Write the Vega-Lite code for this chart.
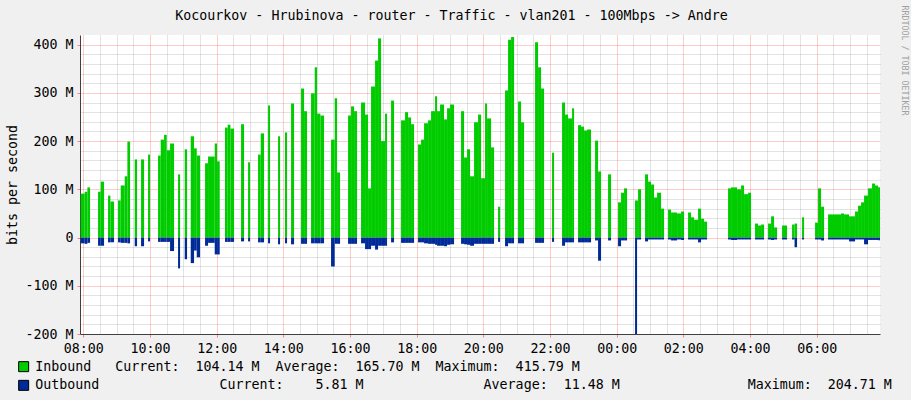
{
"$schema": "https://vega.github.io/schema/vega-lite/v6.json",
"width": 800, "height": 299,
"autosize": {"type": "none"},
"padding": {"left": 80, "top": 35, "right": 31, "bottom": 66},
"background": "#f0f0f0",
"config": {"view": {"fill": "#ffffff", "stroke": null}, "font": "DejaVu Sans Mono"},
"data": {"values": [
{"t0":-4.7,"t1":2.5,"inbound":91,"outbound":-12},{"t0":2.5,"t1":7.3,"inbound":95,"outbound":-13},{"t0":7.3,"t1":12.1,"inbound":104,"outbound":-11},
{"t0":26.5,"t1":31.3,"inbound":95,"outbound":-17},{"t0":31.3,"t1":37.3,"inbound":116,"outbound":-17},
{"t0":44.5,"t1":48.7,"inbound":87,"outbound":-10},{"t0":48.7,"t1":55.3,"inbound":75,"outbound":-10},
{"t0":62.5,"t1":67.3,"inbound":77,"outbound":-10},{"t0":67.3,"t1":74.5,"inbound":108,"outbound":-11},{"t0":74.5,"t1":79.3,"inbound":127,"outbound":-11},{"t0":79.3,"t1":84.1,"inbound":199,"outbound":-12},
{"t0":92.5,"t1":96.7,"inbound":162,"outbound":-18},
{"t0":103.9,"t1":109.3,"inbound":162,"outbound":-18},
{"t0":116.5,"t1":120.1,"inbound":172,"outbound":-8},
{"t0":134.5,"t1":139.3,"inbound":170,"outbound":-9},{"t0":139.3,"t1":145.3,"inbound":203,"outbound":-9},{"t0":145.3,"t1":150.1,"inbound":213,"outbound":-9},{"t0":150.1,"t1":156.1,"inbound":181,"outbound":-9},{"t0":156.1,"t1":163.3,"inbound":195,"outbound":-28},
{"t0":170.5,"t1":174.1,"inbound":131,"outbound":-64},
{"t0":182.5,"t1":186.7,"inbound":183,"outbound":-45},
{"t0":193.3,"t1":199.3,"inbound":210,"outbound":-53},{"t0":199.3,"t1":204.1,"inbound":185,"outbound":-27},{"t0":204.1,"t1":210.1,"inbound":170,"outbound":-41},
{"t0":219.1,"t1":224.5,"inbound":154,"outbound":-17},{"t0":224.5,"t1":236.5,"inbound":168,"outbound":-11},{"t0":236.5,"t1":240.7,"inbound":195,"outbound":-35},{"t0":240.7,"t1":245.5,"inbound":158,"outbound":-35},
{"t0":255,"t1":259.9,"inbound":228,"outbound":-9},{"t0":259.9,"t1":264.7,"inbound":234,"outbound":-9},{"t0":264.7,"t1":271.3,"inbound":226,"outbound":-9},
{"t0":283.9,"t1":289.3,"inbound":235,"outbound":-8},
{"t0":296.5,"t1":300.1,"inbound":156,"outbound":-8},
{"t0":314.5,"t1":319.3,"inbound":172,"outbound":-10},{"t0":319.3,"t1":325.3,"inbound":216,"outbound":-10},
{"t0":332.5,"t1":336.1,"inbound":274,"outbound":-12},
{"t0":350.5,"t1":354.1,"inbound":210,"outbound":-14},
{"t0":363,"t1":366.7,"inbound":218,"outbound":-12},
{"t0":373.9,"t1":379.3,"inbound":278,"outbound":-14},
{"t0":391.9,"t1":397.3,"inbound":309,"outbound":-13},{"t0":397.3,"t1":402.7,"inbound":262,"outbound":-13},
{"t0":409.9,"t1":416.5,"inbound":299,"outbound":-12},{"t0":416.5,"t1":420.7,"inbound":353,"outbound":-12},{"t0":420.7,"t1":426.7,"inbound":257,"outbound":-12},{"t0":426.7,"t1":433.3,"inbound":253,"outbound":-12},
{"t0":445.9,"t1":452.5,"inbound":203,"outbound":-60},{"t0":452.5,"t1":456.7,"inbound":289,"outbound":-13},{"t0":456.7,"t1":462.1,"inbound":135,"outbound":-13},
{"t0":476.5,"t1":481.9,"inbound":253,"outbound":-13},{"t0":481.9,"t1":487.3,"inbound":272,"outbound":-13},{"t0":487.3,"t1":492.7,"inbound":262,"outbound":-13},
{"t0":499.9,"t1":507.1,"inbound":280,"outbound":-12},{"t0":507.1,"t1":512.5,"inbound":255,"outbound":-24},{"t0":512.5,"t1":517.9,"inbound":102,"outbound":-24},{"t0":517.9,"t1":525.1,"inbound":313,"outbound":-17},{"t0":525.1,"t1":530.5,"inbound":367,"outbound":-25},{"t0":530.5,"t1":535.9,"inbound":413,"outbound":-17},{"t0":535.9,"t1":543.1,"inbound":200,"outbound":-17},{"t0":543.1,"t1":546.7,"inbound":257,"outbound":-17},
{"t0":553.9,"t1":559.3,"inbound":284,"outbound":-10},
{"t0":571.9,"t1":579.1,"inbound":243,"outbound":-11},{"t0":579.1,"t1":584.5,"inbound":260,"outbound":-11},{"t0":584.5,"t1":589.9,"inbound":249,"outbound":-11},{"t0":589.9,"t1":595.3,"inbound":235,"outbound":-11},
{"t0":602.5,"t1":607.9,"inbound":193,"outbound":-10},{"t0":607.9,"t1":613.3,"inbound":203,"outbound":-10},{"t0":613.3,"t1":620.5,"inbound":237,"outbound":-12},{"t0":620.5,"t1":625.9,"inbound":243,"outbound":-13},{"t0":625.9,"t1":633.1,"inbound":262,"outbound":-13},{"t0":633.1,"t1":636.7,"inbound":293,"outbound":-15},{"t0":636.7,"t1":642.1,"inbound":262,"outbound":-17},{"t0":642.1,"t1":649.3,"inbound":276,"outbound":-17},{"t0":649.3,"t1":654.7,"inbound":245,"outbound":-18},{"t0":654.7,"t1":660.1,"inbound":268,"outbound":-15},{"t0":660.1,"t1":667.3,"inbound":276,"outbound":-14},
{"t0":679.9,"t1":685.3,"inbound":262,"outbound":-13},{"t0":685.3,"t1":690.7,"inbound":166,"outbound":-14},{"t0":690.7,"t1":696.1,"inbound":183,"outbound":-15},{"t0":696.1,"t1":703.3,"inbound":127,"outbound":-17},{"t0":703.3,"t1":710.5,"inbound":239,"outbound":-13},{"t0":710.5,"t1":716,"inbound":255,"outbound":-13},{"t0":716,"t1":723.1,"inbound":123,"outbound":-13},{"t0":723.1,"t1":726.7,"inbound":278,"outbound":-13},{"t0":726.7,"t1":733.9,"inbound":247,"outbound":-13},{"t0":733.9,"t1":739.3,"inbound":187,"outbound":-13},
{"t0":746.5,"t1":750.1,"inbound":64,"outbound":-9},
{"t0":759.1,"t1":764.5,"inbound":305,"outbound":-18},{"t0":764.5,"t1":769.9,"inbound":410,"outbound":-12},{"t0":769.9,"t1":775.3,"inbound":415.79,"outbound":-12},
{"t0":782.5,"t1":787.9,"inbound":282,"outbound":-12},{"t0":787.9,"t1":793.3,"inbound":239,"outbound":-12},
{"t0":813.1,"t1":818.5,"inbound":405,"outbound":-11},{"t0":818.5,"t1":823.9,"inbound":353,"outbound":-11},{"t0":823.9,"t1":829.3,"inbound":309,"outbound":-11},
{"t0":843.7,"t1":847.3,"inbound":176,"outbound":-9},
{"t0":861.7,"t1":867.1,"inbound":280,"outbound":-17},{"t0":867.1,"t1":872.5,"inbound":255,"outbound":-10},{"t0":872.5,"t1":879.7,"inbound":247,"outbound":-10},{"t0":879.7,"t1":883.3,"inbound":268,"outbound":-10},
{"t0":890.5,"t1":895.9,"inbound":233,"outbound":-10},{"t0":895.9,"t1":901.3,"inbound":230,"outbound":-10},{"t0":901.3,"t1":906.7,"inbound":222,"outbound":-10},{"t0":906.7,"t1":913.9,"inbound":224,"outbound":-10},
{"t0":921.1,"t1":926.5,"inbound":201,"outbound":-6},{"t0":926.5,"t1":931.9,"inbound":137,"outbound":-48},
{"t0":944.5,"t1":949.9,"inbound":131,"outbound":-6},
{"t0":962.5,"t1":967.9,"inbound":73,"outbound":-18},{"t0":967.9,"t1":973.3,"inbound":93,"outbound":-6},{"t0":973.3,"t1":978.7,"inbound":102,"outbound":-6},
{"t0":993.1,"t1":996.7,"inbound":77,"outbound":-204.71},{"t0":996.7,"t1":998.5,"inbound":77,"outbound":-4},{"t0":998.5,"t1":1003.9,"inbound":100,"outbound":-4},
{"t0":1011.1,"t1":1016.5,"inbound":131,"outbound":-8},{"t0":1016.5,"t1":1021.9,"inbound":116,"outbound":-4},{"t0":1021.9,"t1":1027.3,"inbound":110,"outbound":-4},{"t0":1027.3,"t1":1032.7,"inbound":83,"outbound":-4},{"t0":1032.7,"t1":1039.9,"inbound":93,"outbound":-4},{"t0":1039.9,"t1":1045.3,"inbound":60,"outbound":-4},
{"t0":1052.5,"t1":1057.9,"inbound":58,"outbound":-4},{"t0":1057.9,"t1":1068.7,"inbound":52,"outbound":-6},{"t0":1068.7,"t1":1075.9,"inbound":50,"outbound":-4},{"t0":1075.9,"t1":1081.3,"inbound":54,"outbound":-5},
{"t0":1088.5,"t1":1093.9,"inbound":52,"outbound":-4},{"t0":1093.9,"t1":1099.3,"inbound":42,"outbound":-4},{"t0":1099.3,"t1":1106.5,"inbound":37,"outbound":-4},{"t0":1106.5,"t1":1111.9,"inbound":60,"outbound":-10},{"t0":1111.9,"t1":1117.3,"inbound":39,"outbound":-4},{"t0":1117.3,"t1":1122.7,"inbound":33,"outbound":-4},
{"t0":1160.5,"t1":1165.9,"inbound":102,"outbound":-4},{"t0":1165.9,"t1":1176.7,"inbound":104,"outbound":-5},{"t0":1176.7,"t1":1183.9,"inbound":100,"outbound":-4},{"t0":1183.9,"t1":1189.3,"inbound":108,"outbound":-4},{"t0":1189.3,"t1":1196.5,"inbound":90,"outbound":-4},{"t0":1196.5,"t1":1201.9,"inbound":93,"outbound":-4},
{"t0":1209.1,"t1":1214.5,"inbound":29,"outbound":-4},{"t0":1214.5,"t1":1219.9,"inbound":25,"outbound":-4},{"t0":1219.9,"t1":1225.3,"inbound":27,"outbound":-4},
{"t0":1232.5,"t1":1237.9,"inbound":29,"outbound":-4},{"t0":1237.9,"t1":1243.3,"inbound":44,"outbound":-5},{"t0":1243.3,"t1":1248.7,"inbound":21,"outbound":-4},
{"t0":1257.7,"t1":1266.7,"inbound":25,"outbound":-4},
{"t0":1275.7,"t1":1280.2,"inbound":27,"outbound":-4},{"t0":1280.2,"t1":1284.7,"inbound":29,"outbound":-20},
{"t0":1293.7,"t1":1297.3,"inbound":42,"outbound":-4},
{"t0":1317.1,"t1":1322.5,"inbound":31,"outbound":-4},{"t0":1322.5,"t1":1327.9,"inbound":102,"outbound":-4},{"t0":1327.9,"t1":1333.3,"inbound":64,"outbound":-6},
{"t0":1340.5,"t1":1363.9,"inbound":48,"outbound":-4},{"t0":1363.9,"t1":1369.3,"inbound":50,"outbound":-4},{"t0":1369.3,"t1":1378.3,"inbound":48,"outbound":-4},{"t0":1378.3,"t1":1389.1,"inbound":44,"outbound":-8},{"t0":1389.1,"t1":1394.5,"inbound":54,"outbound":-4},{"t0":1394.5,"t1":1399.9,"inbound":66,"outbound":-4},{"t0":1399.9,"t1":1405.3,"inbound":73,"outbound":-4},{"t0":1405.3,"t1":1412.5,"inbound":87,"outbound":-14},{"t0":1412.5,"t1":1419.7,"inbound":102,"outbound":-5},{"t0":1419.7,"t1":1425.1,"inbound":112,"outbound":-5},{"t0":1425.1,"t1":1430.5,"inbound":108,"outbound":-5},{"t0":1430.5,"t1":1434,"inbound":104.14,"outbound":-5.81}
]},
"layer": [
{
"mark": {"type": "rect", "strokeWidth": 0, "clip": true},
"encoding": {
"x": {"field": "t0", "type": "quantitative", "scale": {"domain": [-6, 1434], "nice": false, "zero": false},
 "axis": {"orient": "bottom", "values": [0,120,240,360,480,600,720,840,960,1080,1200,1320],
  "labelExpr": "((floor(datum.value/60)+8)%24 < 10 ? '0' : '') + ((floor(datum.value/60)+8)%24) + ':00'",
  "grid": true, "gridColor": "#ff0000", "gridOpacity": 0.4, "gridDash": [1,1],
  "tickColor": "#ff8080", "tickSize": 3, "domainColor": "#404040", "domainWidth": 1,
  "labelFont": "DejaVu Sans Mono", "labelFontSize": 13.3, "labelColor": "#000000", "labelPadding": 4,
  "labelFlush": false, "labelOverlap": false, "title": null}},
"x2": {"field": "t1"},
"y": {"field": "inbound", "type": "quantitative", "scale": {"domain": [-200, 420], "nice": false, "zero": false},
 "axis": {"orient": "left", "values": [-200,-100,0,100,200,300,400],
  "labelExpr": "datum.value == 0 ? '0' : datum.value + ' M'",
  "grid": true, "gridColor": "#ff0000", "gridOpacity": 0.4, "gridDash": [1,1],
  "tickColor": "#ff8080", "tickSize": 3, "domainColor": "#404040", "domainWidth": 1,
  "labelFont": "DejaVu Sans Mono", "labelFontSize": 13.3, "labelColor": "#000000", "labelPadding": 4, "labelFlush": false, "labelOverlap": false,
  "title": "bits per second", "titleFont": "DejaVu Sans Mono", "titleFontSize": 13.3, "titleFontWeight": "normal", "titleColor": "#000000",
  "titleAngle": 270, "titleX": -68, "titleY": 149.5, "titleAlign": "center", "titleBaseline": "middle"}},
"y2": {"datum": 0},
"color": {"datum": "Inbound", "type": "nominal",
 "scale": {"domain": ["Inbound", "Outbound"], "range": ["#00cc00", "#002a97"]},
 "legend": {"orient": "none", "legendX": -63, "legendY": 325, "direction": "vertical", "title": null,
  "symbolType": "square", "symbolSize": 100, "symbolStrokeColor": "#000000", "symbolStrokeWidth": 1, "symbolOpacity": 1,
  "labelFont": "DejaVu Sans Mono", "labelFontSize": 13.3, "labelColor": "#000000", "labelLimit": 2000, "labelOffset": 5,
  "rowPadding": 3.7, "padding": 0,
  "labelExpr": "datum.label == 'Inbound' ? 'Inbound\u00a0\u00a0\u00a0Current:\u00a0\u00a0104.14\u00a0M\u00a0\u00a0Average:\u00a0\u00a0165.70\u00a0M\u00a0\u00a0Maximum:\u00a0\u00a0415.79\u00a0M' : 'Outbound\u00a0\u00a0\u00a0\u00a0\u00a0\u00a0\u00a0\u00a0\u00a0\u00a0\u00a0\u00a0\u00a0\u00a0\u00a0Current:\u00a0\u00a0\u00a0\u00a05.81\u00a0M\u00a0\u00a0\u00a0\u00a0\u00a0\u00a0\u00a0\u00a0\u00a0\u00a0\u00a0\u00a0\u00a0\u00a0\u00a0Average:\u00a0\u00a011.48\u00a0M\u00a0\u00a0\u00a0\u00a0\u00a0\u00a0\u00a0\u00a0\u00a0\u00a0\u00a0\u00a0\u00a0\u00a0\u00a0\u00a0Maximum:\u00a0\u00a0204.71\u00a0M'"}}
}
},
{
"mark": {"type": "rect", "strokeWidth": 0, "clip": true},
"encoding": {
"x": {"field": "t0", "type": "quantitative",
 "axis": {"orient": "top", "values": [30,60,90,150,180,210,270,300,330,390,420,450,510,540,570,630,660,690,750,780,810,870,900,930,990,1020,1050,1110,1140,1170,1230,1260,1290,1350,1380,1410],
  "grid": true, "gridColor": "#808080", "gridOpacity": 0.45, "gridDash": [1,1],
  "ticks": false, "labels": false, "domain": false,
  "title": "Kocourkov - Hrubinova - router - Traffic - vlan201 - 100Mbps -> Andre", "titleFont": "DejaVu Sans Mono", "titleFontSize": 13.3, "titleFontWeight": "normal", "titleColor": "#000000",
  "titleX": 371, "titleY": -20, "titleAlign": "center", "titleBaseline": "middle", "titleAngle": 0}},
"x2": {"field": "t1"},
"y": {"field": "outbound", "type": "quantitative",
 "axis": {"orient": "right", "values": [-180,-160,-140,-120,-80,-60,-40,-20,20,40,60,80,120,140,160,180,220,240,260,280,320,340,360,380],
  "grid": true, "gridColor": "#808080", "gridOpacity": 0.45, "gridDash": [1,1],
  "ticks": false, "labels": false, "domain": false,
  "title": "RRDTOOL / TOBI OETIKER", "titleFont": "DejaVu Sans Mono", "titleFontSize": 8.3, "titleFontWeight": "normal", "titleColor": "#a0a0a0",
  "titleAngle": 90, "titleX": 23, "titleY": 25, "titleAlign": "center", "titleBaseline": "middle"}},
"y2": {"datum": 0},
"color": {"datum": "Outbound", "type": "nominal"}
}
}
],
"resolve": {"axis": {"x": "independent", "y": "independent"}}
}
